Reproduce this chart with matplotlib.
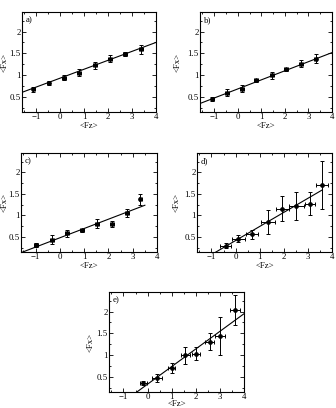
import numpy as np
import matplotlib
matplotlib.use("Agg")
import matplotlib.pyplot as plt
from matplotlib.ticker import MultipleLocator

plt.rcParams['font.family'] = ['Liberation Serif', 'DejaVu Serif']
plt.rcParams['font.size'] = 6.3

# panel data: <Fz>, <Fx>, errors
a_x = [-1.12, -0.49, 0.17, 0.79, 1.46, 2.07, 2.72, 3.37]
a_y = [0.67, 0.82, 0.94, 1.05, 1.22, 1.38, 1.48, 1.59]
a_yerr = [0.05, 0.04, 0.05, 0.08, 0.07, 0.08, 0.05, 0.10]
a_xerr = [0.08] * 8

b_x = [-1.07, -0.45, 0.18, 0.78, 1.44, 2.05, 2.67, 3.30]
b_y = [0.45, 0.59, 0.69, 0.88, 1.00, 1.13, 1.26, 1.38]
b_yerr = [0.04, 0.08, 0.07, 0.04, 0.08, 0.03, 0.08, 0.10]
b_xerr = [0.08] * 8

c_x = [-0.97, -0.32, 0.30, 0.92, 1.53, 2.15, 2.77, 3.32]
c_y = [0.31, 0.44, 0.59, 0.65, 0.81, 0.80, 1.06, 1.37]
c_yerr = [0.05, 0.10, 0.08, 0.04, 0.10, 0.07, 0.10, 0.13]
c_xerr = [0.08] * 8

d_x = [-0.41, 0.11, 0.70, 1.35, 1.93, 2.52, 3.08, 3.59]
d_y = [0.30, 0.46, 0.56, 0.84, 1.16, 1.22, 1.27, 1.71]
d_yerr = [0.05, 0.08, 0.10, 0.28, 0.30, 0.33, 0.27, 0.55]
d_xerr = [0.24, 0.27, 0.25, 0.30, 0.27, 0.30, 0.20, 0.25]

e_x = [-0.17, 0.39, 1.00, 1.56, 2.01, 2.57, 3.01, 3.63]
e_y = [0.36, 0.48, 0.70, 0.99, 1.03, 1.31, 1.44, 2.04]
e_yerr = [0.05, 0.09, 0.12, 0.20, 0.15, 0.20, 0.44, 0.35]
e_xerr = [0.15, 0.22, 0.15, 0.18, 0.15, 0.20, 0.20, 0.20]

# linear fits: slope, intercept, end of line
fit_slope = [0.205, 0.209, 0.216, 0.327, 0.405]
fit_icpt = [0.93, 0.68, 0.48, 0.416, 0.33]
fit_xend = [4.0, 4.0, 3.5, 3.6, 4.0]

labels = ['a)', 'b)', 'c)', 'd)', 'e)']
xs = [a_x, b_x, c_x, d_x, e_x]
ys = [a_y, b_y, c_y, d_y, e_y]
yerrs = [a_yerr, b_yerr, c_yerr, d_yerr, e_yerr]
xerrs = [a_xerr, b_xerr, c_xerr, d_xerr, e_xerr]

W, H = 336, 408
# axes boxes in pixels: left, top, right, bottom
boxes = [(22, 12, 156, 112), (200, 12, 332, 112),
         (21, 153, 157, 252), (197, 153, 332, 252),
         (109, 292, 244, 392)]
ylab_px = [4.5, 178, 4.5, 177, 91]
xlab_off = [13.5, 13.5, 13.5, 13.5, 12.3]

fig = plt.figure(figsize=(W / 100, H / 100), dpi=100)

for i in range(5):
    l, t, r, b = boxes[i]
    ax = fig.add_axes([l / W, 1 - b / H, (r - l) / W, (b - t) / H])
    ax.errorbar(xs[i], ys[i], yerr=yerrs[i], xerr=xerrs[i], fmt='o', ms=2.4,
                color='black', ecolor='black', elinewidth=0.7, capsize=1.5,
                capthick=0.7)
    lx = np.array([-1.6, fit_xend[i]])
    ax.plot(lx, fit_slope[i] * lx + fit_icpt[i], color='black', lw=0.8)
    ax.set_xlim(-1.6, 4)
    ax.set_ylim(0.15, 2.45)
    ax.set_xticks([-1, 0, 1, 2, 3, 4])
    ax.set_yticks([0.5, 1, 1.5, 2])
    ax.set_yticklabels(['0.5', '1', '1.5', '2'])
    ax.xaxis.set_minor_locator(MultipleLocator(0.5))
    ax.yaxis.set_minor_locator(MultipleLocator(0.25))
    ax.tick_params(which='both', direction='in', top=True, right=True,
                   width=0.6, pad=1)
    ax.tick_params(which='major', length=3)
    ax.tick_params(which='minor', length=1.5)
    for s in ax.spines.values():
        s.set_linewidth(0.8)
    ax.set_xlabel('<Fz>', va='center')
    ax.xaxis.set_label_coords(0.5, -xlab_off[i] / (b - t))
    ax.set_ylabel('<Fx>', va='center')
    ax.yaxis.set_label_coords((ylab_px[i] - l) / (r - l), 0.5)
    ax.text(0.03, 0.96, labels[i], transform=ax.transAxes, ha='left', va='top')

fig.savefig('out.png', dpi=100)
